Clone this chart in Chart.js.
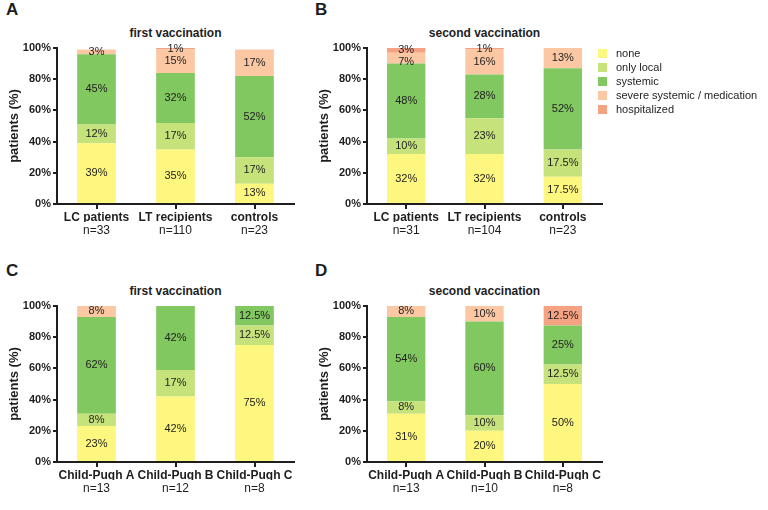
<!DOCTYPE html>
<html>
<head>
<meta charset="utf-8">
<script src="https://cdn.jsdelivr.net/npm/chart.js@4"></script>
<style>
body{margin:0;background:#fff;width:768px;height:510px;position:relative;overflow:hidden;font-family:"Liberation Sans",Arial,sans-serif;color:#1e1e1e}
.box{position:absolute;width:300px;height:250px}
.letter{position:absolute;font-weight:bold;font-size:17px;line-height:20px}
.ttl{position:absolute;font-weight:bold;font-size:12px;text-align:center;line-height:14px;white-space:nowrap}
#legend{position:absolute;left:598px;top:46px;font-size:11px}
#legend div{height:14px;line-height:14px;white-space:nowrap}
#legend span{display:inline-block;width:9px;height:9px;margin-right:9px;vertical-align:-1px}
</style>
</head>
<body>
<div class="letter" style="left:6px;top:0px">A</div>
<div class="letter" style="left:315px;top:0px">B</div>
<div class="letter" style="left:6px;top:261px">C</div>
<div class="letter" style="left:315px;top:261px">D</div>
<div class="ttl" style="left:57px;width:237px;top:26px">first vaccination</div>
<div class="ttl" style="left:367px;width:235px;top:26px">second vaccination</div>
<div class="ttl" style="left:57px;width:237px;top:284px">first vaccination</div>
<div class="ttl" style="left:367px;width:235px;top:284px">second vaccination</div>
<div class="box" style="left:0;top:0"><canvas id="chartA" width="300" height="250"></canvas></div>
<div class="box" style="left:310px;top:0"><canvas id="chartB" width="300" height="250"></canvas></div>
<div class="box" style="left:0;top:258px"><canvas id="chartC" width="300" height="250"></canvas></div>
<div class="box" style="left:310px;top:258px"><canvas id="chartD" width="300" height="250"></canvas></div>
<div id="legend"></div>
<script>
const seriesNames = ['none', 'only local', 'systemic', 'severe systemic / medication', 'hospitalized'];
const seriesColors = ['#fdf67f', '#c6e27b', '#82c860', '#fcc8a3', '#f5a283'];
const yTicks = [0, 20, 40, 60, 80, 100];

const groupLabels = ['LC patients', 'LT recipients', 'controls'];
const cpLabels = ['Child-Pugh A', 'Child-Pugh B', 'Child-Pugh C'];
const nA = ['n=33', 'n=110', 'n=23'];
const nB = ['n=31', 'n=104', 'n=23'];
const nC = ['n=13', 'n=12', 'n=8'];
const nD = ['n=13', 'n=10', 'n=8'];

// A: first vaccination, cohorts
const aNone = [39, 35, 13];
const aLocal = [12, 17, 17];
const aSystemic = [45, 32, 52];
const aSevere = [3, 15, 17];
const aHosp = [0, 1, 0];
// B: second vaccination, cohorts
const bNone = [32, 32, 17.5];
const bLocal = [10, 23, 17.5];
const bSystemic = [48, 28, 52];
const bSevere = [7, 16, 13];
const bHosp = [3, 1, 0];
// C: first vaccination, Child-Pugh
const cNone = [23, 42, 75];
const cLocal = [8, 17, 12.5];
const cSystemic = [62, 42, 12.5];
const cSevere = [8, 0, 0];
const cHosp = [0, 0, 0];
// D: second vaccination, Child-Pugh
const dNone = [31, 20, 50];
const dLocal = [8, 10, 12.5];
const dSystemic = [54, 60, 25];
const dSevere = [8, 10, 0];
const dHosp = [0, 0, 12.5];

const FONT = '"Liberation Sans", Arial, sans-serif';
const INK = '#1e1e1e';

const legend = document.getElementById('legend');
seriesNames.forEach((name, k) => {
  legend.innerHTML += '<div><span style="background:' + seriesColors[k] + '"></span>' + name + '</div>';
});

// percent labels in the middle of each segment, pushed down if they collide
const segLabels = {
  id: 'segLabels',
  afterDatasetsDraw(chart) {
    const ctx = chart.ctx;
    ctx.save();
    ctx.font = '11px ' + FONT;
    ctx.fillStyle = INK;
    ctx.textAlign = 'center';
    ctx.textBaseline = 'middle';
    for (let i = 0; i < chart.data.labels.length; i++) {
      let prev = null;
      for (let d = chart.data.datasets.length - 1; d >= 0; d--) {
        const v = chart.data.datasets[d].data[i];
        if (!v) continue;
        const el = chart.getDatasetMeta(d).data[i];
        let y = (Math.max(el.y, chart.chartArea.top) + el.base) / 2;
        if (prev !== null && y < prev + 12) y = prev + 12;
        ctx.fillText(v + '%', el.x, y);
        prev = y;
      }
    }
    ctx.restore();
  }
};

function makeChart(id, cats, nLabels, vals, padRight) {
  new Chart(document.getElementById(id), {
    type: 'bar',
    data: {
      labels: cats,
      datasets: seriesNames.map((name, k) => ({
        label: name,
        data: vals[k],
        backgroundColor: seriesColors[k],
        borderWidth: 0,
        barPercentage: 0.49,
        categoryPercentage: 1
      }))
    },
    options: {
      responsive: false,
      animation: false,
      layout: {padding: {top: 48, right: padRight, left: 0, bottom: 0}},
      plugins: {legend: {display: false}, tooltip: {enabled: false}},
      scales: {
        x: {
          stacked: true,
          weight: 0,
          grid: {display: true, drawOnChartArea: false, drawTicks: true, tickLength: 5, offset: false, color: INK, lineWidth: 2},
          border: {display: true, color: INK, width: 2},
          ticks: {font: {family: FONT, size: 12, weight: 'bold'}, color: INK, padding: 1, maxRotation: 0, autoSkip: false},
          afterFit(s) { s.height = 18; }
        },
        x2: {
          type: 'category',
          labels: nLabels,
          position: 'bottom',
          offset: true,
          weight: 1,
          grid: {display: false, drawTicks: false},
          border: {display: false},
          ticks: {font: {family: FONT, size: 12}, color: INK, padding: 1, maxRotation: 0, autoSkip: false},
          afterFit(s) { s.height = 28; }
        },
        y: {
          stacked: true,
          min: 0,
          max: 100,
          afterBuildTicks(s) { s.ticks = yTicks.map(v => ({value: v})); },
          grid: {drawOnChartArea: false, drawTicks: true, tickLength: 4, color: INK, lineWidth: 2},
          border: {color: INK, width: 2},
          ticks: {callback: v => v + '%', font: {family: FONT, size: 11, weight: 'bold'}, color: INK, padding: 2},
          title: {display: true, text: 'patients (%)', font: {family: FONT, size: 13, weight: 'bold'}, color: INK, padding: {top: 7, bottom: 0}},
          afterFit(s) { s.width = 57; }
        }
      }
    },
    plugins: [segLabels]
  });
}

makeChart('chartA', groupLabels, nA, [aNone, aLocal, aSystemic, aSevere, aHosp], 6);
makeChart('chartB', groupLabels, nB, [bNone, bLocal, bSystemic, bSevere, bHosp], 8);
makeChart('chartC', cpLabels, nC, [cNone, cLocal, cSystemic, cSevere, cHosp], 6);
makeChart('chartD', cpLabels, nD, [dNone, dLocal, dSystemic, dSevere, dHosp], 8);
</script>
</body>
</html>
